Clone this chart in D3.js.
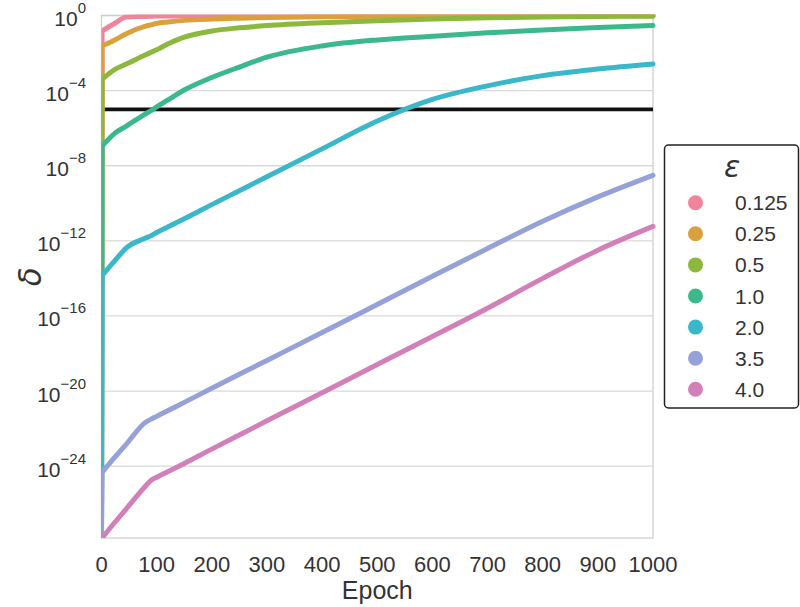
<!DOCTYPE html>
<html>
<head>
<meta charset="utf-8">
<script src="https://cdn.jsdelivr.net/npm/d3@7"></script>
<style>
  body { margin: 0; background: #fff; }
  text { font-family: "Liberation Sans", Arial, sans-serif; fill: #333; }
</style>
</head>
<body>
<svg width="800" height="607"></svg>
<script>
// epsilon values shown in the legend
var epsLabels = ["0.125", "0.25", "0.5", "1.0", "2.0", "3.5", "4.0"];
var colors = ["#f0849a", "#d9a03c", "#8cb83e", "#3cb88d", "#3ab8ca", "#96a1d8", "#d280ba"];

var epochs = [0, 1, 25, 45, 80, 90, 100, 120, 150, 200, 250, 300, 400, 500, 600, 700, 800, 900, 1000];

// delta per epsilon (delta = 0 at epoch 0)
var delta_0125 = [0, 0.15, 0.40, 0.82, 0.89, 0.91, 0.93, 0.94, 0.95, 0.96, 0.965, 0.97, 0.975, 0.98, 0.985, 0.985, 0.99, 0.99, 0.99];
var delta_025  = [0, 0.024, 0.051, 0.107, 0.27, 0.32, 0.38, 0.45, 0.55, 0.65, 0.72, 0.78, 0.86, 0.90, 0.92, 0.94, 0.95, 0.96, 0.97];
var delta_05   = [0, 4e-4, 1.4e-3, 2.6e-3, 8.1e-3, 0.011, 0.015, 0.03, 0.07, 0.15, 0.22, 0.29, 0.41, 0.52, 0.65, 0.76, 0.83, 0.89, 0.91];
var delta_10   = [0, 1.1e-7, 5.6e-7, 1.3e-6, 5.8e-6, 8.7e-6, 1.35e-5, 3.1e-5, 1.07e-4, 5e-4, 1.8e-3, 6e-3, 0.024, 0.05, 0.079, 0.12, 0.17, 0.23, 0.29];
var delta_20   = [0, 1.4e-14, 9.3e-14, 4.2e-13, 1.4e-12, 1.9e-12, 2.8e-12, 5.5e-12, 1.5e-11, 8.5e-11, 4.7e-10, 2.6e-9, 7.9e-8, 2.4e-6, 3.4e-5, 1.8e-4, 6.3e-4, 1.4e-3, 2.6e-3];
var delta_35   = [0, 4.7e-25, 3.2e-24, 1.5e-23, 2.2e-22, 3.2e-22, 4.5e-22, 8.9e-22, 2.5e-21, 1.4e-20, 7.8e-20, 4.3e-19, 1.3e-17, 4.1e-16, 1.3e-14, 3.9e-13, 1.1e-11, 2.2e-10, 3.1e-9];
var delta_40   = [0, 1.5e-28, 1.1e-27, 5.4e-27, 8.9e-26, 1.8e-25, 2.6e-25, 5.1e-25, 1.4e-24, 8.1e-24, 4.6e-23, 2.6e-22, 8.1e-21, 2.6e-19, 8.1e-18, 2.6e-16, 1e-14, 3.2e-13, 5.9e-12];
var allDelta = [delta_0125, delta_025, delta_05, delta_10, delta_20, delta_35, delta_40];

var targetDelta = 1e-5;
var xTicks = [0, 100, 200, 300, 400, 500, 600, 700, 800, 900, 1000];
var yTicksExp = [0, -4, -8, -12, -16, -20, -24];

var svg = d3.select("svg");
var plotL = 101.5, plotR = 653, plotT = 15.5, plotB = 538;

var x = d3.scaleLinear().domain([0, 1000]).range([plotL, plotR]);
var y = d3.scaleLog().domain([1.5e-28, 1]).range([plotB, plotT]).clamp(true);

// horizontal grid
svg.append("g").selectAll("line")
  .data(yTicksExp)
  .enter().append("line")
  .attr("x1", plotL).attr("x2", plotR)
  .attr("y1", d => y(Math.pow(10, d))).attr("y2", d => y(Math.pow(10, d)))
  .attr("stroke", "#d9d9d9").attr("stroke-width", 1.3);

// frame
svg.append("rect")
  .attr("x", plotL).attr("y", plotT)
  .attr("width", plotR - plotL).attr("height", plotB - plotT)
  .attr("fill", "none").attr("stroke", "#cfcfcf").attr("stroke-width", 1.3);

svg.append("clipPath").attr("id", "plotclip")
  .append("rect")
  .attr("x", plotL).attr("y", plotT - 1)
  .attr("width", plotR - plotL + 4).attr("height", plotB - plotT + 1);

var plot = svg.append("g").attr("clip-path", "url(#plotclip)");

// delta target line
plot.append("line")
  .attr("x1", x(0)).attr("x2", x(1000))
  .attr("y1", y(targetDelta)).attr("y2", y(targetDelta))
  .attr("stroke", "#111").attr("stroke-width", 3.8);

// straight jump from epoch 0, smooth curve afterwards
var jump = d3.line()
  .x(d => x(d[0]))
  .y(d => y(d[1]));
var smooth = d3.line()
  .curve(d3.curveMonotoneX)
  .x(d => x(d[0]))
  .y(d => y(d[1]));

plot.selectAll(".series")
  .data(allDelta)
  .enter().append("path")
  .attr("class", "series")
  .attr("d", function(vals) {
    var pts = vals.map((v, i) => [epochs[i], v]);
    return jump(pts.slice(0, 2)) + smooth(pts.slice(1));
  })
  .attr("fill", "none")
  .attr("stroke", (d, i) => colors[i])
  .attr("stroke-width", 5)
  .attr("stroke-linejoin", "round")
  .attr("stroke-linecap", "round");

// x tick labels
svg.append("g").selectAll("text")
  .data(xTicks)
  .enter().append("text")
  .attr("x", d => x(d))
  .attr("y", 572)
  .attr("text-anchor", "middle")
  .style("font-size", "22px")
  .text(d => d);

svg.append("text")
  .attr("x", (plotL + plotR) / 2)
  .attr("y", 599)
  .attr("text-anchor", "middle")
  .style("font-size", "25px")
  .text("Epoch");

// y tick labels 10^k
var yl = svg.append("g").selectAll("text")
  .data(yTicksExp)
  .enter().append("text")
  .attr("x", 86)
  .attr("y", d => y(Math.pow(10, d)) + 10.5)
  .attr("text-anchor", "end")
  .style("font-size", "21px");
yl.append("tspan").text("10");
yl.append("tspan")
  .attr("dy", -13)
  .style("font-size", "15px")
  .text(d => d === 0 ? "0" : "\u2212" + (-d));

svg.append("text")
  .attr("transform", "translate(41," + ((plotT + plotB) / 2) + ") rotate(-90)")
  .attr("text-anchor", "middle")
  .style("font-size", "31px")
  .style("font-style", "italic")
  .style("font-family", "DejaVu Sans")
  .text("\u03b4");

// legend
var legend = svg.append("g");
legend.append("rect")
  .attr("x", 664.5).attr("y", 145)
  .attr("width", 134).attr("height", 263)
  .attr("rx", 4)
  .attr("fill", "#fff").attr("stroke", "#222").attr("stroke-width", 1.5);

legend.append("text")
  .attr("x", 732).attr("y", 177)
  .attr("text-anchor", "middle")
  .style("font-size", "30px")
  .style("font-style", "italic")
  .style("font-family", "DejaVu Sans")
  .text("\u03b5");

var items = legend.selectAll(".item")
  .data(epsLabels)
  .enter().append("g")
  .attr("class", "item")
  .attr("transform", (d, i) => "translate(695.5," + (202.7 + i * 31.1) + ")");
items.append("circle")
  .attr("r", 7.5)
  .attr("fill", (d, i) => colors[i]);
items.append("text")
  .attr("x", 39.5)
  .attr("y", 7.5)
  .style("font-size", "21px")
  .text(d => d);
</script>
</body>
</html>
